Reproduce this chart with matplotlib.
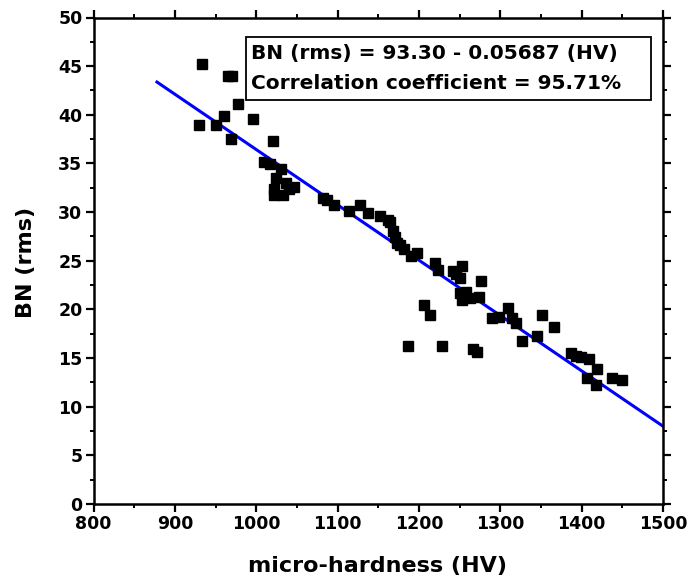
import matplotlib
matplotlib.use("Agg")
import matplotlib.pyplot as plt
from matplotlib.ticker import MultipleLocator
from matplotlib.patches import Rectangle

hardness = [933.7, 965.5, 970.0, 978.0, 960.4, 995.7, 929.7, 950.6, 968.6, 1021.0,
            1009.6, 1017.0, 1030.0, 1024.0, 1036.0, 1046.8, 1040.0, 1022.0, 1022.0, 1033.0,
            1082.0, 1087.0, 1095.6, 1114.4, 1127.6, 1137.0, 1152.0, 1162.0, 1164.4, 1168.5,
            1170.6, 1172.7, 1176.7, 1181.6, 1190.0, 1198.0, 1219.7, 1223.8, 1241.5, 1245.6,
            1253.3, 1250.5, 1276.0, 1250.5, 1257.8, 1252.6, 1262.8, 1274.2, 1205.8, 1213.6,
            1186.0, 1228.8, 1266.0, 1271.7, 1289.4, 1298.8, 1309.8, 1314.0, 1319.3, 1326.3,
            1344.7, 1350.9, 1366.4, 1386.6, 1393.0, 1398.8, 1409.4, 1419.2, 1406.2, 1417.6,
            1437.0, 1449.2]
bn_rms = [45.2, 44.0, 44.0, 41.1, 39.9, 39.6, 39.0, 39.0, 37.5, 37.3,
          35.1, 34.9, 34.4, 33.5, 33.0, 32.6, 32.4, 32.4, 31.8, 31.8,
          31.5, 31.2, 30.7, 30.1, 30.7, 29.9, 29.6, 29.2, 29.0, 28.1,
          27.4, 26.8, 26.6, 26.2, 25.5, 25.8, 24.8, 24.05, 23.9, 23.6,
          24.5, 23.2, 22.95, 21.65, 21.8, 20.97, 21.2, 21.3, 20.5, 19.4,
          16.2, 16.2, 15.9, 15.65, 19.15, 19.25, 20.1, 19.1, 18.6, 16.8,
          17.3, 19.4, 18.2, 15.5, 15.25, 15.1, 14.9, 13.9, 12.9, 12.2,
          12.9, 12.7]

fit_intercept = 93.30
fit_slope = -0.05687
fit_x = [878, 1500]
fit_y = [fit_intercept + fit_slope * v for v in fit_x]

info_lines = ["BN (rms) = 93.30 - 0.05687 (HV)", "Correlation coefficient = 95.71%"]

plt.rcParams['font.family'] = ['DejaVu Sans']
plt.rcParams['font.weight'] = 'bold'

fig = plt.figure(figsize=(6.91, 5.84), dpi=100)
ax = fig.add_axes([93.5 / 691, 1 - 504 / 584, 569.5 / 691, 486.5 / 584])

ax.plot(fit_x, fit_y, color='#0000FF', lw=2.2, zorder=2)
ax.plot(hardness, bn_rms, ls='none', marker='s', ms=6.5, color='black', zorder=3)

ax.set_xlim(800, 1500)
ax.set_ylim(0, 50)
ax.xaxis.set_major_locator(MultipleLocator(100))
ax.xaxis.set_minor_locator(MultipleLocator(50))
ax.yaxis.set_major_locator(MultipleLocator(5))
ax.yaxis.set_minor_locator(MultipleLocator(2.5))

for s in ax.spines.values():
    s.set_linewidth(1.8)
ax.tick_params(which='major', direction='out', length=5.5, width=1.6, labelsize=12.5,
               top=True, right=True, labeltop=False, labelright=False, pad=2.5)
ax.tick_params(which='minor', direction='out', length=3, width=1.4,
               top=True, right=True)
for lab in ax.get_xticklabels() + ax.get_yticklabels():
    lab.set_fontweight('bold')

fig.text(378 / 691, 1 - 566 / 584, 'micro-hardness (HV)', fontsize=16,
         fontweight='bold', ha='center', va='center')
fig.text(26 / 691, 1 - 262 / 584, 'BN (rms)', fontsize=16, fontweight='bold',
         ha='center', va='center', rotation=90)

ax.add_patch(Rectangle((0.267, 0.830), 0.712, 0.130, transform=ax.transAxes,
                       fc='white', ec='black', lw=1.3, zorder=4))
ax.text(0.276, 0.927, info_lines[0], transform=ax.transAxes, fontsize=14.5,
        fontweight='bold', va='center', ha='left', zorder=5)
ax.text(0.276, 0.865, info_lines[1], transform=ax.transAxes, fontsize=14.5,
        fontweight='bold', va='center', ha='left', zorder=5)

fig.savefig('out.png', dpi=100)
